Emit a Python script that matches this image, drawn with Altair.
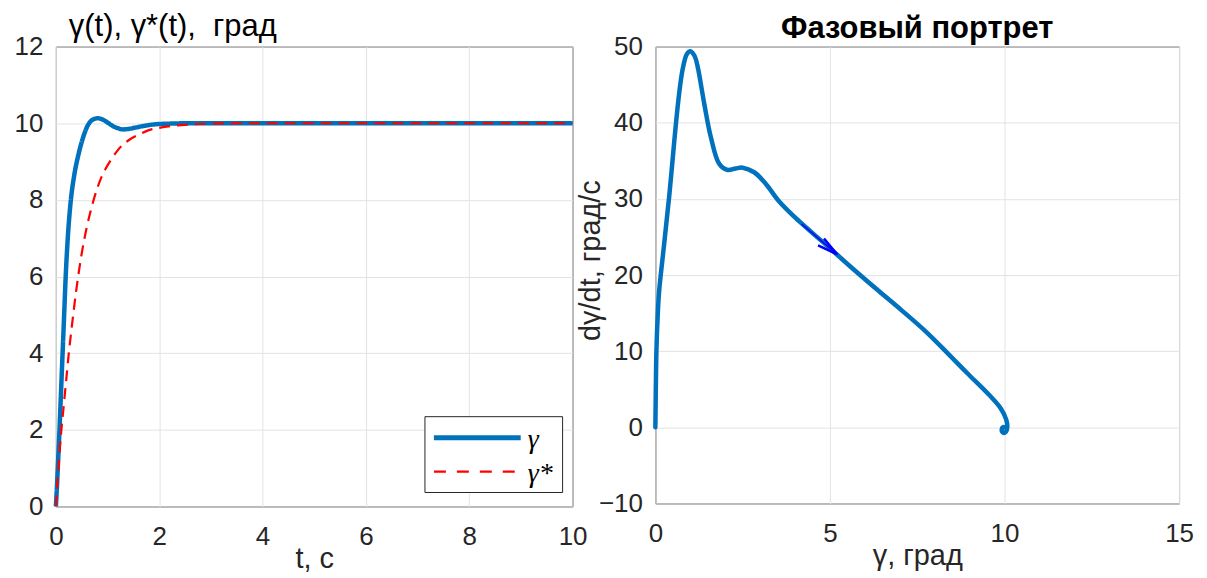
import altair as alt
import pandas as pd

# ---- data ----
t_gamma = [0, 0.02, 0.04, 0.07, 0.10, 0.13, 0.16, 0.19, 0.23, 0.29, 0.35, 0.44, 0.52, 0.62,
           0.72, 0.81, 0.90, 1.0, 1.1, 1.2, 1.3, 1.4, 1.55, 1.7, 1.9, 2.2, 2.6, 3.2, 4.0, 10.0]
gamma = [0, 0.5, 1.1, 2.0, 3.0, 4.0, 5.0, 6.0, 7.0, 8.0, 8.6, 9.2, 9.6, 9.95,
         10.1, 10.13, 10.1, 10.02, 9.93, 9.87, 9.84, 9.85, 9.89, 9.93, 9.97, 9.99, 10.0, 10.0, 10.0, 10.0]

t_ref = [0, 0.05, 0.1, 0.15, 0.2, 0.25, 0.3, 0.4, 0.5, 0.6, 0.7, 0.8, 0.9, 1.0, 1.2, 1.4,
         1.6, 1.8, 2.0, 2.3, 2.6, 3.0, 3.5, 10.0]
gamma_ref = [0, 1.0, 1.9, 2.6, 3.3, 4.0, 4.6, 5.7, 6.6, 7.3, 7.85, 8.3, 8.65, 8.9, 9.3, 9.55,
             9.7, 9.82, 9.88, 9.94, 9.97, 9.99, 10.0, 10.0]

phase_g = [0, 0.01, 0.03, 0.07, 0.11, 0.25, 0.40, 0.54, 0.66, 0.78, 0.90, 1.0, 1.12, 1.21,
           1.40, 1.59, 1.83, 2.07, 2.30, 2.50, 2.83, 3.16, 3.54, 4.11, 4.88, 5.64, 6.40, 7.07,
           7.74, 8.41, 8.98, 9.55, 9.89, 10.05, 10.08, 10.04, 9.96, 9.92, 9.96, 10.0]
phase_v = [0, 4, 10, 15, 18.0, 24.0, 30.5, 37.5, 43.0, 47.0, 49.0, 49.4, 48.8, 47.4,
           42.5, 38.1, 34.6, 33.8, 34.0, 34.1, 33.5, 32.0, 29.7, 27.1, 24.0, 20.9, 17.9, 15.3,
           12.6, 9.55, 6.9, 4.3, 2.5, 1.0, 0.0, -0.6, -0.7, -0.3, 0.05, 0.0]

arrow_g = [4.19, 5.21]
arrow_v = [26.7, 22.7]
head_g = [4.83, 5.21, 4.66]
head_v = [24.8, 22.7, 23.9]

series_names = ["γ", "γ*"]

BLUE = "#0072BD"
RED = "#FF0000"
FONT = "Liberation Sans"
FS = 26      # tick labels
FT = 29      # axis titles

df_left = pd.concat([
    pd.DataFrame({"t": t_gamma, "y": gamma, "s": series_names[0]}),
    pd.DataFrame({"t": t_ref, "y": gamma_ref, "s": series_names[1]}),
], ignore_index=True)

xl = alt.Scale(domain=[0, 10], nice=False)
yl = alt.Scale(domain=[0, 12], nice=False)

lines = alt.Chart(df_left).mark_line(interpolate="monotone").encode(
    x=alt.X("t:Q", scale=xl, axis=alt.Axis(values=[0, 2, 4, 6, 8, 10], title="t, с")),
    y=alt.Y("y:Q", scale=yl, axis=alt.Axis(values=[0, 2, 4, 6, 8, 10, 12], title=None)),
    color=alt.Color("s:N", scale=alt.Scale(domain=series_names, range=[BLUE, RED]), legend=None),
    strokeDash=alt.StrokeDash("s:N", scale=alt.Scale(domain=series_names, range=[[1, 0], [11, 7]]), legend=None),
    strokeWidth=alt.StrokeWidth("s:N", scale=alt.Scale(domain=series_names, range=[4.5, 2.2]), legend=None),
)

one = pd.DataFrame({"a": [0]})
leg_box = alt.Chart(one).mark_rect(fill="white", stroke="#262626", strokeWidth=1).encode(
    x=alt.value(370), x2=alt.value(508), y=alt.value(371), y2=alt.value(447))
leg_blue = alt.Chart(one).mark_rule(color=BLUE, strokeWidth=5).encode(
    x=alt.value(379), x2=alt.value(466), y=alt.value(392))
leg_red = alt.Chart(one).mark_rule(color=RED, strokeWidth=2.2, strokeDash=[12, 11]).encode(
    x=alt.value(379), x2=alt.value(461), y=alt.value(426))
leg_t1 = alt.Chart(one).mark_text(align="left", baseline="middle", font="Liberation Serif",
                                  fontStyle="italic", fontSize=28, color="#000000").encode(
    x=alt.value(473), y=alt.value(394), text=alt.value(series_names[0]))
leg_t2 = alt.Chart(one).mark_text(align="left", baseline="middle", font="Liberation Serif",
                                  fontStyle="italic", fontSize=28, color="#000000").encode(
    x=alt.value(473), y=alt.value(428), text=alt.value(series_names[1]))

left = alt.layer(lines, leg_box, leg_blue, leg_red, leg_t1, leg_t2).properties(
    width=518, height=461,
    title=alt.TitleParams("γ(t), γ*(t),\u00a0 град", anchor="start", frame="group", dx=13,
                          fontSize=31, fontWeight="normal", font=FONT, color="#000000", offset=-9),
)

df_phase = pd.DataFrame({"g": phase_g, "v": phase_v, "i": list(range(len(phase_g)))})
df_arrow = pd.DataFrame({"g": arrow_g, "v": arrow_v, "i": [0, 1]})
df_head = pd.DataFrame({"g": head_g, "v": head_v, "i": [0, 1, 2]})

xs = alt.Scale(domain=[0, 15], nice=False)
ys = alt.Scale(domain=[-10, 50], nice=False)

phase = alt.Chart(df_phase).mark_line(color=BLUE, strokeWidth=4.5, interpolate="catmull-rom",
                                      strokeCap="round", strokeJoin="round").encode(
    x=alt.X("g:Q", scale=xs, axis=alt.Axis(values=[0, 5, 10, 15], title="γ, град")),
    y=alt.Y("v:Q", scale=ys, axis=alt.Axis(values=[-10, 0, 10, 20, 30, 40, 50],
                                           title="dγ/dt, град/с", titleX=-50, titleY=214)),
    order="i:Q",
)
shaft = alt.Chart(df_arrow).mark_line(color="#0000FF", strokeWidth=1.5).encode(
    x=alt.X("g:Q", scale=xs), y=alt.Y("v:Q", scale=ys), order="i:Q")
head = alt.Chart(df_head).mark_line(color="#0000FF", strokeWidth=2.5, strokeJoin="miter").encode(
    x=alt.X("g:Q", scale=xs), y=alt.Y("v:Q", scale=ys), order="i:Q")

right = alt.layer(phase, shaft, head).properties(
    width=525, height=458,
    title=alt.TitleParams("Фазовый портрет", anchor="middle", frame="group",
                          fontSize=31, fontWeight="bold", font=FONT, color="#000000", offset=-11),
)

chart = alt.hconcat(left, right, spacing=83, bounds="flush").properties(
    padding={"left": 5, "top": 1, "right": 5, "bottom": 0}
).configure_view(
    stroke="#262626", strokeWidth=1
).configure_axis(
    labelFont=FONT, labelFontSize=FS, labelColor="#262626", labelFlush=False,
    titleFont=FONT, titleFontSize=FT, titleColor="#262626", titleFontWeight="normal",
    grid=True, gridColor="#e3e3e3", gridWidth=1,
    domain=False, ticks=False,
).configure_axisX(
    labelPadding=17, titlePadding=-5,
).configure_axisY(
    labelPadding=13,
)

chart.save("out.html", embed_options={"renderer": "svg", "actions": False})
